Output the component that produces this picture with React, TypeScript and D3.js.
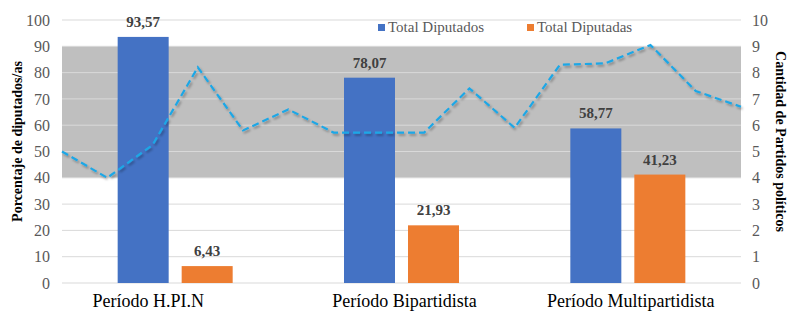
import React from "react";
import * as d3 from "d3";

const categories = ["Período H.PI.N", "Período Bipartidista", "Período Multipartidista"];
const diputados = [93.57, 78.07, 58.77];
const diputadas = [6.43, 21.93, 41.23];
const partidos = [5, 4, 5.25, 8.2, 5.8, 6.6, 5.72, 5.72, 5.72, 7.4, 5.9, 8.3, 8.35, 9.05, 7.3, 6.7];
const leftTicks = [0, 10, 20, 30, 40, 50, 60, 70, 80, 90, 100];
const rightTicks = [0, 1, 2, 3, 4, 5, 6, 7, 8, 9, 10];
const bandRange = [40, 90];
const seriesNames = ["Total Diputados", "Total Diputadas"];

const W = 797, H = 322;
const M = { left: 62, right: 56, top: 20, bottom: 39 };
const serif = '"Liberation Serif"';

export default function App() {
  const x0 = d3.scaleBand().domain(categories).range([M.left, W - M.right]);
  const y = d3.scaleLinear().domain([0, 100]).range([H - M.bottom, M.top]);
  const yR = d3.scaleLinear().domain([0, 10]).range([H - M.bottom, M.top]);
  const xL = d3.scaleLinear().domain([0, partidos.length - 1]).range([M.left, W - M.right]);
  const barW = 51;
  const gap = 13;
  const line = d3.line<number>().x((_, i) => xL(i)).y((d) => yR(d));
  const fmt = (v: number) => v.toFixed(2).replace(".", ",");
  const colors = ["#4472C4", "#ED7D31"];
  const labelDx = [-27, 3, 3];
  const ts = { fontFamily: serif } as React.CSSProperties;
  const midY = (y(0) + y(100)) / 2;

  return (
    <div style={{ position: "absolute", left: 0, top: 0 }}>
      <svg width={W} height={H} style={{ display: "block", background: "#fff" }}>
        <defs>
          <filter id="sh" x="-5%" y="-20%" width="110%" height="140%">
            <feDropShadow dx="1.5" dy="2" stdDeviation="1.2" floodColor="#000" floodOpacity="0.3" />
          </filter>
        </defs>
        <rect x={M.left} width={W - M.right - M.left} y={y(bandRange[1])} height={y(bandRange[0]) - y(bandRange[1])} fill="#BFBFBF" />
        {leftTicks.map((t) => (
          <line key={t} x1={M.left} x2={W - M.right} y1={y(t)} y2={y(t)} stroke="#D9D9D9" strokeWidth={1} />
        ))}
        {leftTicks.map((t) => (
          <text key={"l" + t} x={50} y={y(t)} dy="0.35em" textAnchor="end" style={ts} fontSize={16} fill="#595959">{t}</text>
        ))}
        {rightTicks.map((t) => (
          <text key={"r" + t} x={752} y={yR(t)} dy="0.35em" textAnchor="start" style={ts} fontSize={16} fill="#595959">{t}</text>
        ))}
        {categories.map((c, i) => {
          const cx = (x0(c) as number) + x0.bandwidth() / 2;
          const vals = [diputados[i], diputadas[i]];
          return (
            <g key={c}>
              {vals.map((v, j) => {
                const bx = j === 0 ? cx - gap / 2 - barW : cx + gap / 2;
                return (
                  <g key={j}>
                    <rect x={bx} width={barW} y={y(v)} height={y(0) - y(v)} fill={colors[j]} />
                    <text x={bx + barW / 2} y={y(v) - 10} textAnchor="middle" style={ts} fontWeight="bold" fontSize={15} fill="#404040">{fmt(v)}</text>
                  </g>
                );
              })}
              <text x={cx + labelDx[i]} y={307} textAnchor="middle" style={ts} fontSize={18} fill="#000">{c}</text>
            </g>
          );
        })}
        <path d={line(partidos) || ""} fill="none" stroke="#1EA7E6" strokeWidth={2.2} strokeDasharray="7 4" filter="url(#sh)" />
        {seriesNames.map((s, i) => (
          <g key={s} transform={`translate(${378 + i * 149},0)`}>
            <rect x={0} y={24} width={7} height={7} fill={colors[i]} />
            <text x={10} y={32} style={ts} fontSize={15} fill="#595959">{s}</text>
          </g>
        ))}
        <text transform={`translate(22,${midY - 10}) rotate(-90)`} textAnchor="middle" style={ts} fontWeight="bold" fontSize={14} fill="#000">Porcentaje de diputados/as</text>
        <text transform={`translate(776,${midY - 10}) rotate(90)`} textAnchor="middle" style={ts} fontWeight="bold" fontSize={14} fill="#000">Cantidad de Partidos políticos</text>
      </svg>
    </div>
  );
}
